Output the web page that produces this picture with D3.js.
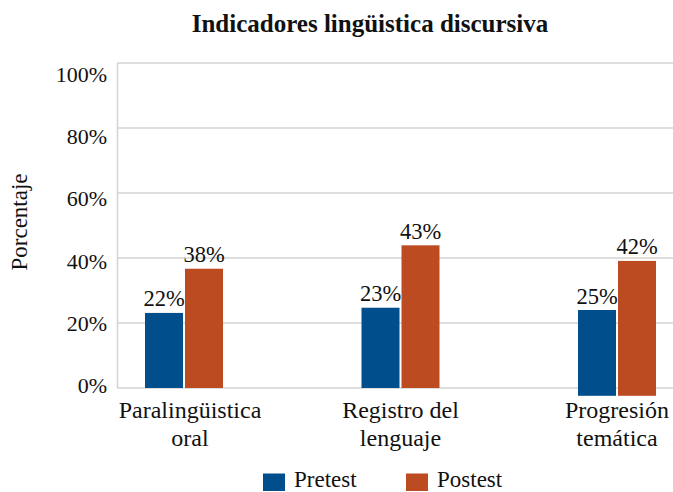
<!DOCTYPE html>
<html>
<head>
<meta charset="utf-8">
<script src="https://cdn.jsdelivr.net/npm/d3@7/dist/d3.min.js"></script>
<style>
  html, body { margin: 0; padding: 0; background: #fff; }
  svg { display: block; }
  text { font-family: "Liberation Serif", "Times New Roman", serif; fill: #111; }
</style>
</head>
<body>
<svg id="chart" width="673" height="492"></svg>
<script>
// ---- data ----
const categories = [["Paralingüistica", "oral"], ["Registro del", "lenguaje"], ["Progresión", "temática"]];
const seriesNames = ["Pretest", "Postest"];
const pretestValues = [23.1, 24.7, 24.0];
const postestValues = [36.7, 43.9, 39.1];
const pretestLabels = ["22%", "23%", "25%"];
const postestLabels = ["38%", "43%", "42%"];
const barBase = [0, 0, -2.4];
const yTicks = [0, 20, 40, 60, 80, 100];
const titleText = "Indicadores lingüistica discursiva";
const yTitle = "Porcentaje";

const colors = ["#014e8c", "#bc4b22"];

const svg = d3.select("#chart");
const plotLeft = 117.5, plotRight = 673;

const y = d3.scaleLinear().domain([0, 100]).range([388, 63]);
const yLab = d3.scaleLinear().domain([0, 100]).range([385.5, 74]);
const catKeys = categories.map(c => c.join(" "));
const x = d3.scalePoint().domain(catKeys).range([184, 617]);
const barW = 38, gap = 2;

// gridlines
svg.append("g").selectAll("line").data(yTicks).join("line")
  .attr("x1", plotLeft).attr("x2", plotRight)
  .attr("y1", d => y(d)).attr("y2", d => y(d))
  .attr("stroke", "#d3d3d3").attr("stroke-width", 1.5);
// left axis line
svg.append("line").attr("x1", plotLeft).attr("x2", plotLeft)
  .attr("y1", y(100)).attr("y2", y(0))
  .attr("stroke", "#d3d3d3").attr("stroke-width", 1.5);

// tick labels
svg.append("g").selectAll("text").data(yTicks).join("text")
  .attr("x", 107).attr("y", d => yLab(d))
  .attr("dy", "0.35em").attr("text-anchor", "end")
  .attr("font-size", 22).text(d => d + "%");

// bars
const series = [pretestValues, postestValues];
const labels = [pretestLabels, postestLabels];
series.forEach((vals, si) => {
  const off = si === 0 ? -(barW + gap / 2) : gap / 2;
  const g = svg.append("g");
  g.selectAll("rect").data(vals).join("rect")
    .attr("x", (d, i) => x(catKeys[i]) + off)
    .attr("y", d => y(d))
    .attr("width", barW)
    .attr("height", (d, i) => y(barBase[i]) - y(d))
    .attr("fill", colors[si]);
  g.selectAll("text").data(vals).join("text")
    .attr("x", (d, i) => x(catKeys[i]) + off + barW / 2)
    .attr("y", d => y(d) - 6.5)
    .attr("text-anchor", "middle").attr("font-size", 22.5)
    .text((d, i) => labels[si][i]);
});

// category labels
const cl = svg.append("g").selectAll("text").data(categories).join("text")
  .attr("text-anchor", "middle").attr("font-size", 24);
cl.each(function (c, i) {
  const t = d3.select(this);
  c.forEach((line, li) => {
    t.append("tspan").attr("x", x(catKeys[i]) + (i === 0 ? 6 : 0))
      .attr("y", 417.5 + li * 28).text(line);
  });
});

// title
svg.append("text").attr("x", 370).attr("y", 32)
  .attr("text-anchor", "middle").attr("font-size", 25).attr("font-weight", "bold")
  .text(titleText);

// y title
svg.append("text").attr("transform", "translate(27,222) rotate(-90)")
  .attr("text-anchor", "middle").attr("font-size", 23).text(yTitle);

// legend
const legX = [263, 406];
const lg = svg.append("g").selectAll("g").data(seriesNames).join("g")
  .attr("transform", (d, i) => `translate(${legX[i]},473.5)`);
lg.append("rect").attr("width", 22).attr("height", 17.5).attr("fill", (d, i) => colors[i]);
lg.append("text").attr("x", 31).attr("y", 13.5).attr("font-size", 23).text(d => d);
</script>
</body>
</html>
